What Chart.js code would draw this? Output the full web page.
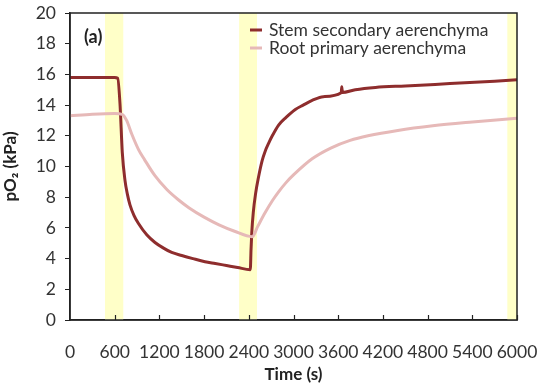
<!DOCTYPE html>
<html>
<head>
<meta charset="utf-8">
<script src="https://cdn.jsdelivr.net/npm/chart.js@4.4.0/dist/chart.umd.min.js"></script>
<style>
  html, body { margin: 0; padding: 0; background: #fff; }
  #wrap { width: 537px; height: 389px; }
</style>
</head>
<body>
<div id="wrap"><canvas id="o2Chart"></canvas></div>
<script>
// Stem secondary aerenchyma (time in s, pO2 in kPa)
const stemTime = [0, 300, 600, 640, 671, 702, 738, 770, 805, 860, 917, 1030, 1141, 1250, 1365, 1500, 1650, 1812, 1950, 2100, 2250, 2420, 2430, 2440, 2460, 2490, 2530, 2580, 2620, 2670, 2710, 2800, 2900, 3020, 3130, 3250, 3400, 3640, 3648, 3656, 3830, 4100, 4500, 4900, 5300, 5700, 6000];
const stemPO2 = [15.8, 15.8, 15.8, 15.75, 14.1, 10.9, 9.1, 8.2, 7.5, 6.8, 6.3, 5.55, 5.05, 4.7, 4.4, 4.2, 4.0, 3.8, 3.68, 3.55, 3.42, 3.28, 4.6, 5.7, 7.0, 8.2, 9.3, 10.4, 11.0, 11.55, 11.95, 12.7, 13.2, 13.7, 14.0, 14.3, 14.55, 14.8, 15.2, 14.82, 15.0, 15.15, 15.25, 15.35, 15.45, 15.55, 15.65];

// Root primary aerenchyma
const rootTime = [0, 300, 600, 700, 760, 830, 920, 1000, 1140, 1300, 1450, 1600, 1800, 2000, 2200, 2447, 2520, 2620, 2720, 2800, 2900, 3000, 3250, 3500, 3760, 4000, 4400, 4870, 5400, 6000];
const rootPO2 = [13.3, 13.4, 13.45, 13.4, 13.0, 12.1, 11.1, 10.45, 9.4, 8.5, 7.85, 7.3, 6.7, 6.2, 5.8, 5.43, 6.1, 7.0, 7.8, 8.35, 8.95, 9.45, 10.5, 11.2, 11.7, 12.0, 12.35, 12.65, 12.9, 13.15];

// shaded time windows (s)
const shadedBands = [[470, 715], [2270, 2510], [5870, 6000]];

const xTicks = [0, 600, 1200, 1800, 2400, 3000, 3600, 4200, 4800, 5400, 6000];
const yTicks = [0, 2, 4, 6, 8, 10, 12, 14, 16, 18, 20];

const seriesLabels = ["Stem secondary aerenchyma", "Root primary aerenchyma"];
const stemColor = "#8e2d2d";
const rootColor = "#e6b9b8";
const bandColor = "#ffffc8";
const fontFamily = "Lato, 'Liberation Sans', sans-serif";

function toPoints(xs, ys) {
  return xs.map((x, i) => ({ x: x, y: ys[i] }));
}

// Yellow bands behind the lines
const bandPlugin = {
  id: "bands",
  beforeDatasetsDraw(chart) {
    const { ctx, chartArea: a, scales } = chart;
    ctx.save();
    ctx.fillStyle = bandColor;
    shadedBands.forEach(([s, e]) => {
      const x0 = scales.x.getPixelForValue(s);
      const x1 = scales.x.getPixelForValue(e);
      ctx.fillRect(x0, a.top, x1 - x0, a.bottom - a.top);
    });
    ctx.restore();
  },
};

// Frame, inward x ticks, legend and panel label
const framePlugin = {
  id: "frame",
  afterDraw(chart) {
    const { ctx, chartArea: a, scales } = chart;
    ctx.save();
    ctx.strokeStyle = "#222";
    ctx.lineWidth = 1.5;
    ctx.strokeRect(a.left, a.top, a.right - a.left, a.bottom - a.top);

    // x ticks point up into the plot
    ctx.lineWidth = 1.2;
    xTicks.forEach((t) => {
      if (t === 0) return;
      const px = Math.round(scales.x.getPixelForValue(t)) + 0.5;
      ctx.beginPath();
      ctx.moveTo(px, a.bottom);
      ctx.lineTo(px, a.bottom - 5);
      ctx.stroke();
    });

    // legend
    const colors = [stemColor, rootColor];
    ctx.font = "17.5px " + fontFamily;
    ctx.textBaseline = "middle";
    ctx.fillStyle = "#333";
    seriesLabels.forEach((lab, i) => {
      const y = 30 + i * 18;
      ctx.strokeStyle = colors[i];
      ctx.lineWidth = 3;
      ctx.beginPath();
      ctx.moveTo(250, y);
      ctx.lineTo(262, y);
      ctx.stroke();
      ctx.fillText(lab, 269, y);
    });

    // panel label
    ctx.font = "bold 18px " + fontFamily;
    ctx.fillStyle = "#222";
    ctx.fillText("(a)", 84, 37);
    ctx.restore();
  },
};

const ctx = document.getElementById("o2Chart").getContext("2d");
const o2Chart = new Chart(ctx, {
  type: "line",
  data: {
    datasets: [
      {
        label: seriesLabels[0],
        data: toPoints(stemTime, stemPO2),
        borderColor: stemColor,
        borderWidth: 3,
        pointRadius: 0,
        cubicInterpolationMode: "monotone",
        order: 1,
      },
      {
        label: seriesLabels[1],
        data: toPoints(rootTime, rootPO2),
        borderColor: rootColor,
        borderWidth: 3,
        pointRadius: 0,
        cubicInterpolationMode: "monotone",
        order: 0,
      },
    ],
  },
  options: {
    responsive: true,
    maintainAspectRatio: false,
    animation: false,
    layout: { padding: { top: 13, right: 20, left: 0, bottom: 0 } },
    plugins: {
      legend: { display: false },
      tooltip: { enabled: false },
    },
    scales: {
      x: {
        type: "linear",
        min: 0,
        max: 6000,
        afterBuildTicks: (scale) => {
          scale.ticks = xTicks.map((v) => ({ value: v }));
        },
        afterFit: (scale) => {
          scale.height = 69;
          scale.paddingLeft = 0;
          scale.paddingRight = 0;
        },
        grid: { display: false },
        border: { display: true, color: "#222", width: 1.5 },
        ticks: {
          padding: 14,
          maxRotation: 0,
          autoSkip: false,
          color: "#333",
          font: { family: fontFamily, size: 17.5 },
          callback: (v) => String(v),
        },
        title: {
          display: true,
          text: "Time (s)",
          color: "#222",
          padding: { top: 4 },
          font: { family: fontFamily, size: 17, weight: "bold" },
        },
      },
      y: {
        min: 0,
        max: 20,
        afterBuildTicks: (scale) => {
          scale.ticks = yTicks.map((v) => ({ value: v }));
        },
        afterFit: (scale) => {
          scale.width = 70;
          scale.paddingTop = 0;
          scale.paddingBottom = 0;
        },
        grid: {
          display: true,
          drawOnChartArea: false,
          drawTicks: true,
          tickLength: 5,
          color: "#222",
        },
        border: { display: true, color: "#222", width: 1.5 },
        ticks: {
          padding: 9,
          color: "#333",
          font: { family: fontFamily, size: 17.5 },
        },
        title: {
          display: true,
          text: "pO\u2082 (kPa)",
          color: "#222",
          padding: { top: 0, bottom: 0 },
          font: { family: fontFamily, size: 17, weight: "bold" },
        },
      },
    },
  },
  plugins: [bandPlugin, framePlugin],
});
</script>
</body>
</html>
